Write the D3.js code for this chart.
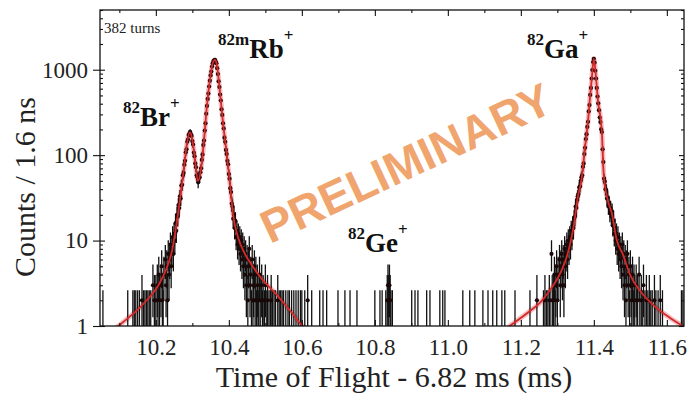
<!DOCTYPE html>
<html><head><meta charset="utf-8">
<script src="https://cdn.jsdelivr.net/npm/d3@7"></script>
<style>body{margin:0;background:#fff}svg{display:block}</style>
</head><body><svg id="c" width="693" height="398"></svg>
<script>
// ---------------- data ----------------
const BIN = 0.002;
const brRbStart = 10.200;
const brRbCounts = [2,0,3,1,4,2,0,3,5,2,
 1,4,0,6,3,5,2,7,4,6,
 9,5,8,11,7,12,10,16,13,20,
 19,26,24,33,31,44,45,58,62,77,
 86,108,117,143,152,172,178,187,175,168,
 146,133,107,97,80,72,58,55,48,54,
 55,63,70,88,102,131,148,194,236,305,
 377,455,526,636,744,858,952,1087,1193,1262,
 1284,1306,1243,1187,1041,889,732,627,512,436,
 344,296,236,205,160,143,115,103,86,78,
 60,53,41,37,27,25,18,20,14,17,
 11,13,9,12,8,11,7,10,6,9,
 5,8,4,7,3,6,2,5,8,3,
 4,1,6,2,3,5];
const gaStart = 11.290;
const gaCounts = [2,4,1,3,5,2,4,0,6,3,
 5,7,4,6,3,8,5,7,9,6,
 10,8,11,9,13,11,15,14,18,19,
 25,24,30,33,35,42,43,50,55,58,
 73,80,103,122,154,176,214,246,325,386,
 507,612,788,992,1228,1342,1209,972,788,612,
 486,404,336,276,244,201,186,117,83,53,
 49,40,39,31,32,25,27,21,24,19,
 22,15,17,12,14,10,12,8,11,7,
 9,6,8,5,9,4,7,3,6,2,
 5,7,3,4,1,5];
const sparseT = [10.055,10.123,10.137,10.141,10.145,10.150,10.155,10.162,10.166,10.170,10.174,10.178,10.182,10.186,10.192,10.196,
 10.472,10.474,10.476,10.478,10.480,10.482,10.484,10.486,10.490,10.492,10.494,10.498,10.500,10.504,10.506,10.510,10.514,10.516,10.520,10.524,10.528,10.534,10.538,10.542,10.546,10.550,10.556,10.562,10.566,10.572,10.578,10.584,10.590,10.596,10.600,
 10.608,10.616,10.627,10.649,10.658,10.668,10.699,10.718,10.732,10.751,10.800,10.814,10.820,10.830,10.834,10.836,10.838,10.840,10.842,10.844,10.848,
 10.901,10.910,10.918,10.942,10.951,10.978,10.986,10.992,11.041,11.060,11.074,11.096,11.110,11.123,11.134,11.148,11.156,11.184,11.225,11.244,
 11.262,11.266,11.270,11.274,11.278,11.280,11.284,11.286,11.288,
 11.502,11.504,11.506,11.508,11.510,11.512,11.516,11.518,11.520,11.524,11.526,11.530,11.534,11.536,11.540,11.544,11.548,11.552,11.556,11.560,11.566,11.570,11.576,11.582,11.588,11.640,11.644];
const sparseN = [1,1,1,1,1,1,1,2,1,1,1,1,1,1,3,2,
 2,4,1,3,2,1,4,2,3,1,2,1,3,1,2,1,1,2,1,1,1,2,1,1,1,1,1,1,1,1,1,1,1,1,1,
 1,2,1,1,1,1,1,1,1,1,1,1,1,1,2,3,2,3,2,1,1,
 1,1,1,1,1,1,1,1,1,1,1,1,1,1,1,1,1,1,1,2,
 1,2,1,1,2,1,7,2,1,
 3,2,4,1,3,2,3,1,2,4,1,2,1,3,1,2,1,2,1,1,2,1,1,2,1,1,1];
// fit curves
const fitBrRbT = [10.090,10.175,10.205,10.230,10.244,10.255,10.266,10.277,10.285,10.293,10.299,10.307,10.315,10.323,10.332,10.340,10.348,10.356,10.362,10.367,10.375,10.384,10.395,10.403,10.411,10.425,10.444,10.465,10.485,10.532,10.573,10.603,10.612];
const fitBrRbN = [0.95,2.0,2.9,4.8,7.5,14,30,70,135,185,160,90,50,65,150,380,750,1200,1300,1150,585,240,96,47,21,11,7.0,5.0,3.8,2.3,1.42,1.0,0.95];
const fitGaT = [11.165,11.225,11.252,11.279,11.299,11.312,11.326,11.337,11.345,11.356,11.367,11.375,11.384,11.389,11.395,11.400,11.405,11.411,11.422,11.427,11.438,11.449,11.463,11.479,11.499,11.526,11.567,11.608,11.647];
const fitGaN = [0.97,1.5,1.86,2.6,3.5,4.5,6.5,10,15,32,55,116,250,446,850,1350,900,446,183,60,30,21,10,7,4,2.6,1.7,1.25,0.98];
const xTicks = [10.2,10.4,10.6,10.8,11.0,11.2,11.4,11.6];
const xMinor = [10.1,10.3,10.5,10.7,10.9,11.1,11.3,11.5];
const yTicks = [1,10,100,1000];
const yMinor = [2,3,4,5,6,7,8,9,20,30,40,50,60,70,80,90,200,300,400,500,600,700,800,900,2000,3000,4000,5000];
const ionMass = ["82","82m","82","82"];
const ionEl = ["Br","Rb","Ge","Ga"];

// ---------------- drawing ----------------
const L=100,R=684,T=10,B=326;
const svg = d3.select('#c');
const x = d3.scaleLinear().domain([10.047,11.647]).range([L,R]);
const y = d3.scaleLog().domain([1,5000]).range([B,T]);
const serif = "'Liberation Serif','Times New Roman',serif";

const pts = [];
brRbCounts.forEach((n,i)=>{ if(n>0) pts.push({t: +(brRbStart+i*BIN).toFixed(4), n}); });
gaCounts.forEach((n,i)=>{ if(n>0) pts.push({t: +(gaStart+i*BIN).toFixed(4), n}); });
sparseT.forEach((t,i)=>pts.push({t, n: sparseN[i]}));

svg.append('defs').append('clipPath').attr('id','clip')
  .append('rect').attr('x',L).attr('y',T).attr('width',R-L).attr('height',B-T);
const plot = svg.append('g').attr('clip-path','url(#clip)');

// fit halo under data
const line = d3.line().x(d=>x(d[0])).y(d=>y(d[1])).curve(d3.curveMonotoneX);
const fits = [[fitBrRbT,fitBrRbN],[fitGaT,fitGaN]].map(([ts,ns])=>ts.map((t,i)=>[t,ns[i]]));
fits.forEach(f=>plot.append('path').datum(f).attr('d',line)
    .attr('fill','none').attr('stroke','#e8707a').attr('stroke-opacity',0.45).attr('stroke-width',5));

// error bars
plot.append('g').selectAll('line').data(pts).join('line')
  .attr('x1',d=>x(d.t)).attr('x2',d=>x(d.t))
  .attr('y1',d=>y(Math.max(1, d.n-Math.sqrt(d.n))))
  .attr('y2',d=>y(d.n+Math.sqrt(d.n+0.75)+0.3))
  .attr('stroke','#111').attr('stroke-width',1.3);

// points
plot.append('g').selectAll('circle').data(pts.filter(d=>d.n>1)).join('circle')
  .attr('cx',d=>x(d.t)).attr('cy',d=>y(d.n)).attr('r',2.1).attr('fill','#1a0808');

// fit curves
fits.forEach(f=>plot.append('path').datum(f).attr('d',line)
    .attr('fill','none').attr('stroke','#d42a2a').attr('stroke-width',1.8));

// axes
function styleAxis(g){ g.select('.domain').remove(); g.selectAll('line').attr('stroke','#111').attr('stroke-width',1.1); }
svg.append('g').attr('transform',`translate(0,${B})`)
  .call(d3.axisBottom(x).tickValues(xTicks).tickFormat(d3.format('.1f')).tickSize(-6).tickPadding(13))
  .call(styleAxis).call(g=>g.selectAll('text').attr('font-family',serif).attr('font-size',23).attr('fill','#222'));
svg.append('g').attr('transform',`translate(0,${B})`)
  .call(d3.axisBottom(x).tickValues(xMinor).tickFormat('').tickSize(-3)).call(styleAxis);
svg.append('g').attr('transform',`translate(0,${T})`)
  .call(d3.axisTop(x).tickValues(xTicks).tickFormat('').tickSize(-6)).call(styleAxis);
svg.append('g').attr('transform',`translate(0,${T})`)
  .call(d3.axisTop(x).tickValues(xMinor).tickFormat('').tickSize(-3)).call(styleAxis);
svg.append('g').attr('transform',`translate(${L},0)`)
  .call(d3.axisLeft(y).tickValues(yTicks).tickFormat(d3.format('d')).tickSize(7).tickPadding(5))
  .call(styleAxis).call(g=>g.selectAll('text').attr('font-family',serif).attr('font-size',23).attr('fill','#222'));
svg.append('g').attr('transform',`translate(${L},0)`)
  .call(d3.axisLeft(y).tickValues(yTicks).tickFormat('').tickSize(-5)).call(styleAxis);
svg.append('g').attr('transform',`translate(${L},0)`)
  .call(d3.axisLeft(y).tickValues(yMinor).tickFormat('').tickSize(-3)).call(styleAxis);
svg.append('g').attr('transform',`translate(${R},0)`)
  .call(d3.axisRight(y).tickValues(yTicks).tickFormat('').tickSize(-5)).call(styleAxis);
svg.append('g').attr('transform',`translate(${R},0)`)
  .call(d3.axisRight(y).tickValues(yMinor).tickFormat('').tickSize(-3)).call(styleAxis);

svg.append('rect').attr('x',L).attr('y',T).attr('width',R-L).attr('height',B-T)
  .attr('fill','none').attr('stroke','#111').attr('stroke-width',1.3);

// axis titles
svg.append('text').attr('transform','translate(35,187) rotate(-90)').attr('text-anchor','middle')
  .attr('font-family',serif).attr('font-size',30).attr('fill','#222').text('Counts / 1.6 ns');
svg.append('text').attr('x',394).attr('y',387).attr('text-anchor','middle')
  .attr('font-family',serif).attr('font-size',30).attr('fill','#222').text('Time of Flight - 6.82 ms (ms)');

svg.append('text').attr('x',104).attr('y',33).attr('font-family',serif).attr('font-size',15)
  .attr('fill','#222').text('382 turns');

// ion labels
const ionPos = [[123,126],[218,58],[348,252],[527,58]];
ionEl.forEach((el,i)=>{
  const t = svg.append('text').attr('x',ionPos[i][0]).attr('y',ionPos[i][1])
    .attr('font-family',serif).attr('font-weight','bold').attr('fill','#111');
  t.append('tspan').attr('font-size',17).attr('dy',-13).text(ionMass[i]);
  t.append('tspan').attr('font-size',27).attr('dy',13).text(el);
  t.append('tspan').attr('font-size',17).attr('dy',-17).text('+');
});

// watermark
svg.append('text').attr('transform','translate(406,163) rotate(-25)').attr('text-anchor','middle')
  .attr('dominant-baseline','central').attr('font-family',"'Liberation Sans',Arial,sans-serif")
  .attr('font-weight','bold').attr('font-size',46).attr('fill','#f0a46e').text('PRELIMINARY');
</script></body></html>
